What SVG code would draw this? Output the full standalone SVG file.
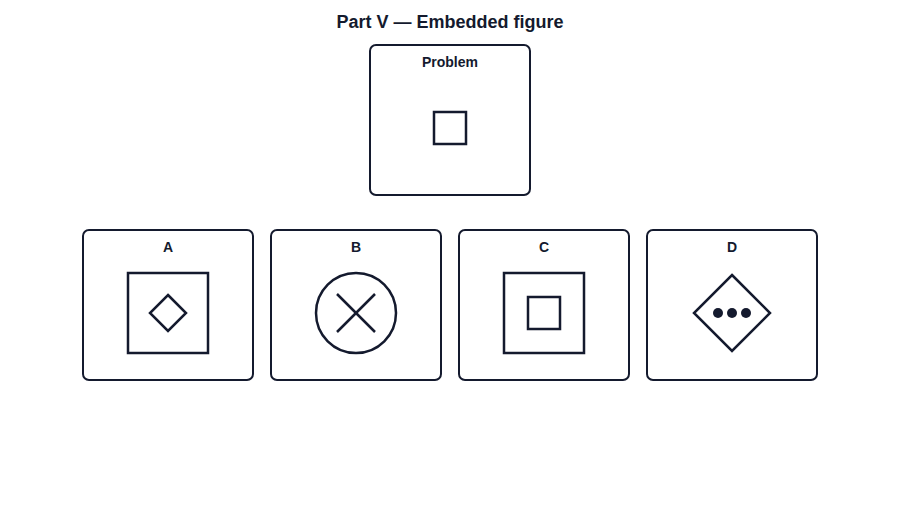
<svg xmlns="http://www.w3.org/2000/svg" width="900" height="520" viewBox="0 0 900 520">
<style>
.panel{fill:#ffffff;stroke:#141a2e;stroke-width:2}
.shape{fill:none;stroke:#141a2e;stroke-width:2.5}
.dot{fill:#141a2e}
.lbl{font-family:"Liberation Sans",Arial,sans-serif;font-weight:bold;font-size:14px;fill:#141a2e;text-anchor:middle}
.title{font-family:"Liberation Sans",Arial,sans-serif;font-weight:bold;font-size:18px;fill:#141a2e;text-anchor:middle}
</style>
<rect width="900" height="520" fill="#ffffff"/>
<text class="title" x="450" y="28">Part V — Embedded figure</text>
<g id="problem">
<rect class="panel" x="370" y="45" width="160" height="150" rx="6"/>
<text class="lbl" x="450" y="67">Problem</text>
<rect class="shape" x="434" y="112" width="32" height="32"/>
</g>
<g id="optionA">
<rect class="panel" x="83" y="230" width="170" height="150" rx="6"/>
<text class="lbl" x="168" y="252">A</text>
<rect class="shape" x="128" y="273" width="80" height="80"/>
<polygon class="shape" points="168,295 186,313 168,331 150,313"/>
</g>
<g id="optionB">
<rect class="panel" x="271" y="230" width="170" height="150" rx="6"/>
<text class="lbl" x="356" y="252">B</text>
<circle class="shape" cx="356" cy="313" r="40"/>
<line class="shape" x1="337" y1="294" x2="375" y2="332"/>
<line class="shape" x1="375" y1="294" x2="337" y2="332"/>
</g>
<g id="optionC">
<rect class="panel" x="459" y="230" width="170" height="150" rx="6"/>
<text class="lbl" x="544" y="252">C</text>
<rect class="shape" x="504" y="273" width="80" height="80"/>
<rect class="shape" x="528" y="297" width="32" height="32"/>
</g>
<g id="optionD">
<rect class="panel" x="647" y="230" width="170" height="150" rx="6"/>
<text class="lbl" x="732" y="252">D</text>
<polygon class="shape" points="732,275 770,313 732,351 694,313"/>
<circle class="dot" cx="718" cy="313" r="5"/>
<circle class="dot" cx="732" cy="313" r="5"/>
<circle class="dot" cx="746" cy="313" r="5"/>
</g>
<g id="connectors"></g>
</svg>
